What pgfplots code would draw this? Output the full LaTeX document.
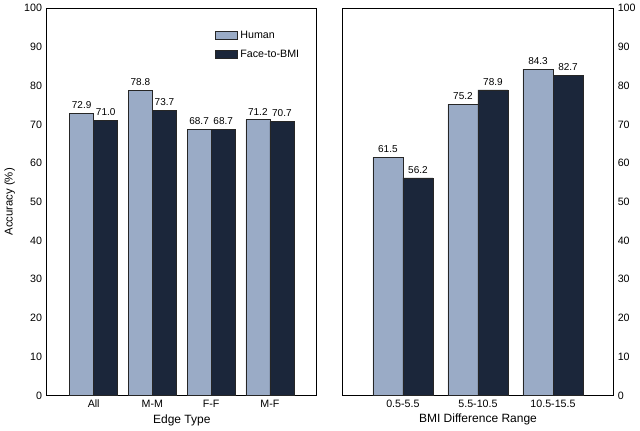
\documentclass[border=0pt]{standalone}
\usepackage{pgfplots}
\pgfplotsset{compat=1.18}
\usepackage{fontspec}
\setmainfont{Liberation Sans}
\definecolor{human}{HTML}{9AABC6}
\definecolor{ftob}{HTML}{1B263A}

\begin{document}
\begin{tikzpicture}[font=\fontsize{8}{9}\selectfont]
\pgfplotsset{
  panel/.style={
    scale only axis, width=202.5pt, height=290.25pt,
    ymin=0, ymax=100, ytick={0,10,...,100},
    major tick length=0pt,
    axis line style={line width=0.7pt},
    tick label style={font=\fontsize{8}{9}\selectfont},
    /pgf/number format/assume math mode=true,
    xtick=data,
    ybar,
    nodes near coords,
    every node near coord/.append style={font=\fontsize{7.5}{9}\selectfont,
      /pgf/number format/fixed, /pgf/number format/fixed zerofill,
      /pgf/number format/precision=1},
    xlabel style={font=\fontsize{9}{10}\selectfont, yshift=2pt},
    ylabel style={font=\fontsize{8.5}{10}\selectfont},
  },
}
\begin{axis}[panel,
  xmin=-0.8, xmax=3.8,
  xticklabels={All,M-M,F-F,M-F},
  xlabel={Edge Type},
  ylabel={Accuracy (\%)},
  legend style={draw=none, fill=none, at={(0.96,0.955)}, anchor=north east,
    font=\fontsize{8}{9}\selectfont, row sep=3pt},
  legend cell align=left,
  legend image code/.code={\draw[#1, bar shift=0pt] (0cm,-0.1cm) rectangle (0.58cm,0.11cm);},
]
\addplot[fill=human, draw=black!85, line width=0.4pt, bar width=0.41, bar shift=-0.205]
  coordinates {(0,72.9) (1,78.8) (2,68.7) (3,71.2)};
\addlegendentry{Human}
\addplot[fill=ftob, draw=black!85, line width=0.4pt, bar width=0.41, bar shift=0.205]
  coordinates {(0,71.0) (1,73.7) (2,68.7) (3,70.7)};
\addlegendentry{Face-to-BMI}
\end{axis}
\begin{axis}[panel, at={(222pt,0pt)},
  xmin=-0.8, xmax=2.8,
  xticklabels={0.5-5.5,5.5-10.5,10.5-15.5},
  xlabel={BMI Difference Range},
  yticklabel pos=right,
]
\addplot[fill=human, draw=black!85, line width=0.4pt, bar width=0.4, bar shift=-0.2]
  coordinates {(0,61.5) (1,75.2) (2,84.3)};
\addplot[fill=ftob, draw=black!85, line width=0.4pt, bar width=0.4, bar shift=0.2]
  coordinates {(0,56.2) (1,78.9) (2,82.7)};
\end{axis}
\end{tikzpicture}
\end{document}
